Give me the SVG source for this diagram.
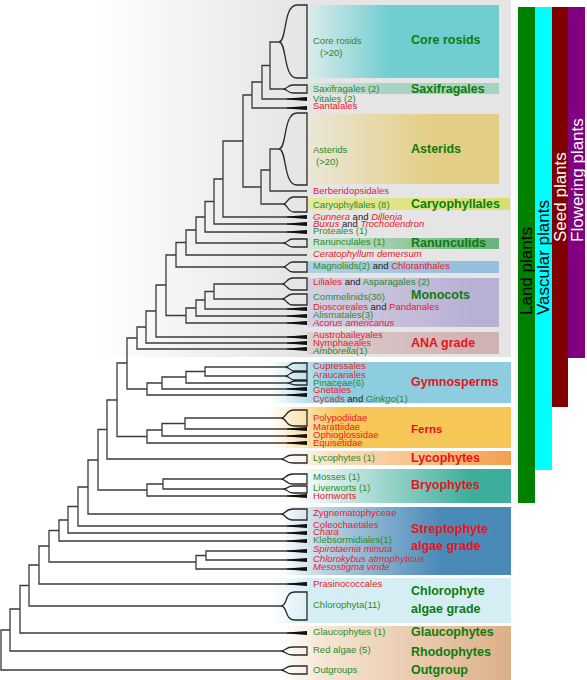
<svg xmlns="http://www.w3.org/2000/svg" xmlns:xlink="http://www.w3.org/1999/xlink" width="587" height="680" viewBox="0 0 587 680">
<style>
.t{fill:none;stroke:#3a3a3a;stroke-width:1.3}
.w{fill:none;stroke:#2a2a2a;stroke-width:1.3}
.s{font-family:"Liberation Sans",Arial,sans-serif;font-size:9.5px}
.b{font-family:"Liberation Sans",Arial,sans-serif;font-size:12.5px;font-weight:bold}
.g{fill:#2b8a2b}.r{fill:#e8202a}.k{fill:#222}
.bg{fill:#0c7c0c}.br{fill:#e4141c}
.i{font-style:italic}
.v{font-family:"Liberation Sans",Arial,sans-serif;font-size:17px}
</style>
<defs>
<path id="tp" d="M-20,-0.6 L0,-1.9 L0,1.9 L-20,0.6Z" fill="#111"/>
<linearGradient id="gGray" gradientUnits="userSpaceOnUse" x1="90" x2="300" y1="0" y2="0"><stop offset="0" stop-color="#fff"/><stop offset="1" stop-color="#e5e5e5"/></linearGradient>
<linearGradient id="gCore" gradientUnits="userSpaceOnUse" x1="307" x2="390" y1="0" y2="0"><stop offset="0" stop-color="#dcecec"/><stop offset="1" stop-color="#70cdd0"/></linearGradient>
<linearGradient id="gSax" gradientUnits="userSpaceOnUse" x1="307" x2="390" y1="0" y2="0"><stop offset="0" stop-color="#d6e6de"/><stop offset="1" stop-color="#a6d2c0"/></linearGradient>
<linearGradient id="gAst" gradientUnits="userSpaceOnUse" x1="307" x2="430" y1="0" y2="0"><stop offset="0" stop-color="#ebe7d8"/><stop offset="1" stop-color="#e4ce86"/></linearGradient>
<linearGradient id="gCar" gradientUnits="userSpaceOnUse" x1="307" x2="510" y1="0" y2="0"><stop offset="0" stop-color="#e6e99a"/><stop offset="1" stop-color="#d8de6c"/></linearGradient>
<linearGradient id="gRan" gradientUnits="userSpaceOnUse" x1="307" x2="470" y1="0" y2="0"><stop offset="0" stop-color="#d6e8da"/><stop offset="1" stop-color="#6cb47c"/></linearGradient>
<linearGradient id="gMag" gradientUnits="userSpaceOnUse" x1="307" x2="470" y1="0" y2="0"><stop offset="0" stop-color="#b2d0e4"/><stop offset="1" stop-color="#92bfdc"/></linearGradient>
<linearGradient id="gMon" gradientUnits="userSpaceOnUse" x1="307" x2="470" y1="0" y2="0"><stop offset="0" stop-color="#d4d0e2"/><stop offset="1" stop-color="#b9b1d4"/></linearGradient>
<linearGradient id="gAna" gradientUnits="userSpaceOnUse" x1="307" x2="470" y1="0" y2="0"><stop offset="0" stop-color="#dcd0d0"/><stop offset="1" stop-color="#d0b2b4"/></linearGradient>
<linearGradient id="gGym" gradientUnits="userSpaceOnUse" x1="270" x2="330" y1="0" y2="0"><stop offset="0" stop-color="#fff"/><stop offset="1" stop-color="#8ecde0"/></linearGradient>
<linearGradient id="gFer" gradientUnits="userSpaceOnUse" x1="270" x2="340" y1="0" y2="0"><stop offset="0" stop-color="#fff"/><stop offset="1" stop-color="#f6c656"/></linearGradient>
<linearGradient id="gLyc" gradientUnits="userSpaceOnUse" x1="285" x2="510" y1="0" y2="0"><stop offset="0" stop-color="#fff"/><stop offset="0.2" stop-color="#fbe0c0"/><stop offset="1" stop-color="#f4a04e"/></linearGradient>
<linearGradient id="gBry" gradientUnits="userSpaceOnUse" x1="295" x2="470" y1="0" y2="0"><stop offset="0" stop-color="#fff"/><stop offset="1" stop-color="#3eae9c"/></linearGradient>
<linearGradient id="gStr" gradientUnits="userSpaceOnUse" x1="280" x2="440" y1="0" y2="0"><stop offset="0" stop-color="#fff"/><stop offset="0.3" stop-color="#b6d0e0"/><stop offset="1" stop-color="#4a8ab8"/></linearGradient>
<linearGradient id="gChl" gradientUnits="userSpaceOnUse" x1="270" x2="310" y1="0" y2="0"><stop offset="0" stop-color="#fff"/><stop offset="1" stop-color="#d5eef4"/></linearGradient>
<linearGradient id="gTan" gradientUnits="userSpaceOnUse" x1="280" x2="510" y1="0" y2="0"><stop offset="0" stop-color="#fff"/><stop offset="0.2" stop-color="#f5e4d2"/><stop offset="1" stop-color="#dcb088"/></linearGradient>
</defs>
<rect width="587" height="680" fill="#fff"/>
<g id="panels">
<rect x="0" y="0" width="511" height="357" fill="url(#gGray)"/>
<rect x="307" y="5" width="192" height="73" fill="url(#gCore)"/>
<rect x="307" y="83" width="192" height="11" fill="url(#gSax)"/>
<rect x="307" y="114" width="192" height="70" fill="url(#gAst)"/>
<rect x="307" y="198" width="203" height="12" fill="url(#gCar)"/>
<rect x="307" y="238" width="192" height="11" fill="url(#gRan)"/>
<rect x="307" y="261" width="192" height="12" fill="url(#gMag)"/>
<rect x="307" y="278" width="192" height="49" fill="url(#gMon)"/>
<rect x="307" y="332" width="192" height="22" fill="url(#gAna)"/>
<rect x="270" y="362" width="241" height="41" fill="url(#gGym)"/>
<rect x="270" y="407" width="241" height="41" fill="url(#gFer)"/>
<rect x="285" y="451" width="226" height="14" fill="url(#gLyc)"/>
<rect x="295" y="469" width="216" height="34" fill="url(#gBry)"/>
<rect x="280" y="507" width="231" height="68" fill="url(#gStr)"/>
<rect x="270" y="578" width="241" height="45" fill="url(#gChl)"/>
<rect x="280" y="626" width="231" height="54" fill="url(#gTan)"/>
</g>
<g id="connectors">
<path class="t" d="M279,42H270V89H283 M270,65.5H262V99H307 M262,82H252V108H307 M279,149H270V191H307 M270,170H261V204H283 M252,95H243V187H261 M243,141H223V217H307 M223,179H214V224H307 M214,201.5H205V232H307 M205,217H196V243H283 M196,230H186V255H307 M186,242.5H176V267H283 M282,284H214V299H282 M214,291.5H205V309H307 M205,300H196V316H307 M196,308H186V323H307 M176,255H166V315.5H186 M166,285H156V337H307 M156,311H146V343H307 M146,327H137V349H307 M285,367H205V376H285 M205,371.5H186V383H287 M186,377H162V389H307 M162,383H147V395H307 M137,338H127V389H147 M281,418H185V429H307 M185,423.5H162V436H307 M162,430H147V443H307 M127,363H117V436.5H147 M117,400H107V459H281 M281,479H163V489H283 M163,484H147V496H307 M107,429.5H98V490H147 M98,460H88V514H281 M88,487H78V526H307 M78,506.5H68V533H307 M68,520H59V541H307 M307,551H206V560H307 M206,555.5H196V569H307 M59,530.5H49V562H196 M49,546H39V584H307 M39,565H29V606H281 M29,585.5H20V633H307 M20,609H10V651H281 M10,630H1V670H281"/>
<path class="w" d="M279,42C287,42 283,5 297,5H307V78H297C283,78 287,42 279,42Z M283,89C288,89 287,85 293,85H307V93H293C287,93 288,89 283,89Z M279,149C287,149 283,113 297,113H307V185H297C283,185 287,149 279,149Z M283,204C288,204 287,197 294,197H307V212H294C287,212 288,204 283,204Z M283,243C288,243 287,239 293,239H307V247H293C287,247 288,243 283,243Z M283,267C288,267 287,262 293,262H307V272H293C287,272 288,267 283,267Z M282,284C287,284 286,278 293,278H307V290H293C286,290 287,284 282,284Z M282,299C287,299 286,294 293,294H307V305H293C286,305 287,299 282,299Z M285,367C290,367 289,363 295,363H307V371H295C289,371 290,367 285,367Z M285,376C290,376 289,372 295,372H307V380H295C289,380 290,376 285,376Z M287,383C291,383 291,381 296,381H307V385H296C291,385 291,383 287,383Z M281,418C287,418 285,410 294,410H307V426H294C285,426 287,418 281,418Z M281,459C286,459 285,455 293,455H307V463H293C285,463 286,459 281,459Z M281,479C286,479 285,474 293,474H307V484H293C285,484 286,479 281,479Z M283,489C288,489 287,486 293,486H307V493H293C287,493 288,489 283,489Z M281,514C286,514 285,509 293,509H307V520H293C285,520 286,514 281,514Z M281,606C288,606 284,592 295,592H307V620H295C284,620 288,606 281,606Z M281,651C286,651 285,647 293,647H307V655H293C285,655 286,651 281,651Z M281,670C286,670 285,666 293,666H307V674H293C285,674 286,670 281,670Z"/>
<g>
<use xlink:href="#tp" x="307" y="99"/><use xlink:href="#tp" x="307" y="108"/><use xlink:href="#tp" x="307" y="217"/><use xlink:href="#tp" x="307" y="224"/><use xlink:href="#tp" x="307" y="232"/><use xlink:href="#tp" x="307" y="309"/><use xlink:href="#tp" x="307" y="316"/><use xlink:href="#tp" x="307" y="323"/><use xlink:href="#tp" x="307" y="337"/><use xlink:href="#tp" x="307" y="343"/><use xlink:href="#tp" x="307" y="349"/><use xlink:href="#tp" x="307" y="389"/><use xlink:href="#tp" x="307" y="395"/><use xlink:href="#tp" x="307" y="429"/><use xlink:href="#tp" x="307" y="436"/><use xlink:href="#tp" x="307" y="443"/><use xlink:href="#tp" x="307" y="496"/><use xlink:href="#tp" x="307" y="526"/><use xlink:href="#tp" x="307" y="533"/><use xlink:href="#tp" x="307" y="541"/><use xlink:href="#tp" x="307" y="551"/><use xlink:href="#tp" x="307" y="560"/><use xlink:href="#tp" x="307" y="569"/><use xlink:href="#tp" x="307" y="584"/><use xlink:href="#tp" x="307" y="633"/>
</g>
</g>
<g id="n-corerosids"><text class="s g" x="313" y="44">Core rosids</text><text class="s g" x="320" y="56">(&gt;20)</text><text class="b bg" x="411" y="44">Core rosids</text></g>
<g id="n-saxifragales"><text class="s g" x="313" y="92">Saxifragales (2)</text><text class="b bg" x="411" y="93">Saxifragales</text></g>
<g id="n-vitales"><text class="s g" x="313" y="102">Vitales (2)</text></g>
<g id="n-santalales"><text class="s r" x="313" y="109">Santalales</text></g>
<g id="n-asterids"><text class="s g" x="313" y="153">Asterids</text><text class="s g" x="316" y="165">(&gt;20)</text><text class="b bg" x="411" y="153">Asterids</text></g>
<g id="n-berberidopsidales"><text class="s r" x="313" y="194">Berberidopsidales</text></g>
<g id="n-caryophyllales"><text class="s g" x="313" y="208">Caryophyllales (8)</text><text class="b bg" x="411" y="208">Caryophyllales</text></g>
<g id="n-gunnera"><text class="s" x="313" y="220"><tspan class="r i">Gunnera</tspan><tspan class="k"> and </tspan><tspan class="r i">Dillenia</tspan></text></g>
<g id="n-buxus"><text class="s" x="313" y="227"><tspan class="r i">Buxus</tspan><tspan class="k"> and </tspan><tspan class="r i">Trochodendron</tspan></text></g>
<g id="n-proteales"><text class="s g" x="313" y="234">Proteales (1)</text></g>
<g id="n-ranunculales"><text class="s g" x="313" y="245">Ranunculales (1)</text><text class="b bg" x="411" y="247">Ranunculids</text></g>
<g id="n-ceratophyllum"><text class="s r i" x="313" y="257">Ceratophyllum demersum</text></g>
<g id="n-magnoliids"><text class="s" x="313" y="269"><tspan class="g">Magnoliids(2)</tspan><tspan class="k"> and </tspan><tspan class="r">Chloranthales</tspan></text></g>
<g id="n-liliales"><text class="s" x="313" y="285"><tspan class="r">Liliales</tspan><tspan class="k"> and </tspan><tspan class="g">Asparagales (2)</tspan></text></g>
<g id="n-commelinids"><text class="s g" x="313" y="300">Commelinids(30)</text><text class="b bg" x="411" y="299">Monocots</text></g>
<g id="n-dioscoreales"><text class="s" x="313" y="310"><tspan class="r">Dioscoreales</tspan><tspan class="k"> and </tspan><tspan class="r">Pandanales</tspan></text></g>
<g id="n-alismatales"><text class="s g" x="313" y="318">Alismatales(3)</text></g>
<g id="n-acorus"><text class="s r i" x="313" y="326">Acorus americanus</text></g>
<g id="n-austrobaileyales"><text class="s r" x="313" y="338">Austrobaileyales</text><text class="b br" x="411" y="347">ANA grade</text></g>
<g id="n-nymphaeales"><text class="s r" x="313" y="346">Nymphaeales</text></g>
<g id="n-amborella"><text class="s g" x="313" y="354"><tspan class="i">Amborella</tspan>(1)</text></g>
<g id="n-cupressales"><text class="s r" x="313" y="369">Cupressales</text><text class="b br" x="411" y="386">Gymnosperms</text></g>
<g id="n-araucariales"><text class="s r" x="313" y="378">Araucariales</text></g>
<g id="n-pinaceae"><text class="s g" x="313" y="386">Pinaceae(6)</text></g>
<g id="n-gnetales"><text class="s r" x="313" y="393">Gnetales</text></g>
<g id="n-cycads"><text class="s" x="313" y="402"><tspan class="r">Cycads</tspan><tspan class="k"> and </tspan><tspan class="g i">Ginkgo</tspan><tspan class="g">(1)</tspan></text></g>
<g id="n-polypodiidae"><text class="s r" x="313" y="421">Polypodiidae</text><text class="b br" x="411" y="433" style="font-size:11.5px">Ferns</text></g>
<g id="n-marattiidae"><text class="s r" x="313" y="430">Marattiidae</text></g>
<g id="n-ophioglossidae"><text class="s r" x="313" y="438">Ophioglossidae</text></g>
<g id="n-equisetidae"><text class="s r" x="313" y="446">Equisetidae</text></g>
<g id="n-lycophytes"><text class="s g" x="313" y="461">Lycophytes (1)</text><text class="b br" x="411" y="462">Lycophytes</text></g>
<g id="n-mosses"><text class="s g" x="313" y="480">Mosses (1)</text><text class="b br" x="411" y="489">Bryophytes</text></g>
<g id="n-liverworts"><text class="s g" x="313" y="491">Liverworts (1)</text></g>
<g id="n-hornworts"><text class="s r" x="313" y="499">Hornworts</text></g>
<g id="n-zygnematophyceae"><text class="s r" x="313" y="516">Zygnematophyceae</text><text class="b br" x="411" y="533">Streptophyte</text><text class="b br" x="411" y="550">algae grade</text></g>
<g id="n-coleochaetales"><text class="s r" x="313" y="528">Coleochaetales</text></g>
<g id="n-chara"><text class="s r i" x="313" y="535">Chara</text></g>
<g id="n-klebsormidiales"><text class="s g" x="313" y="543">Klebsormidiales(1)</text></g>
<g id="n-spirotaenia"><text class="s r i" x="313" y="552">Spirotaenia minuta</text></g>
<g id="n-chlorokybus"><text class="s r i" x="313" y="562">Chlorokybus atmophyticus</text></g>
<g id="n-mesostigma"><text class="s r i" x="313" y="570">Mesostigma viride</text></g>
<g id="n-prasinococcales"><text class="s r" x="313" y="587">Prasinococcales</text><text class="b bg" x="411" y="595">Chlorophyte</text><text class="b bg" x="411" y="613">algae grade</text></g>
<g id="n-chlorophyta"><text class="s g" x="313" y="608">Chlorophyta(11)</text></g>
<g id="n-glaucophytes"><text class="s g" x="313" y="635">Glaucophytes (1)</text><text class="b bg" x="411" y="636">Glaucophytes</text></g>
<g id="n-redalgae"><text class="s g" x="313" y="653">Red algae (5)</text><text class="b bg" x="411" y="656">Rhodophytes</text></g>
<g id="n-outgroups"><text class="s g" x="313" y="673">Outgroups</text><text class="b bg" x="411" y="674">Outgroup</text></g>
<g id="n-landplants"><rect x="518" y="7" width="17" height="496" fill="#008000"/><text class="v" fill="#000" transform="translate(532,315) rotate(-90)">Land plants</text></g>
<g id="n-vascularplants"><rect x="535" y="7" width="17" height="463" fill="#00ffff"/><text class="v" fill="#000" transform="translate(549,315) rotate(-90)">Vascular plants</text></g>
<g id="n-seedplants"><rect x="552" y="7" width="16" height="400" fill="#800000"/><text class="v" fill="#fff" transform="translate(566,242) rotate(-90)">Seed plants</text></g>
<g id="n-floweringplants"><rect x="568" y="7" width="17" height="351" fill="#800080"/><text class="v" fill="#fff" transform="translate(583,242) rotate(-90)">Flowering plants</text></g>
</svg>
